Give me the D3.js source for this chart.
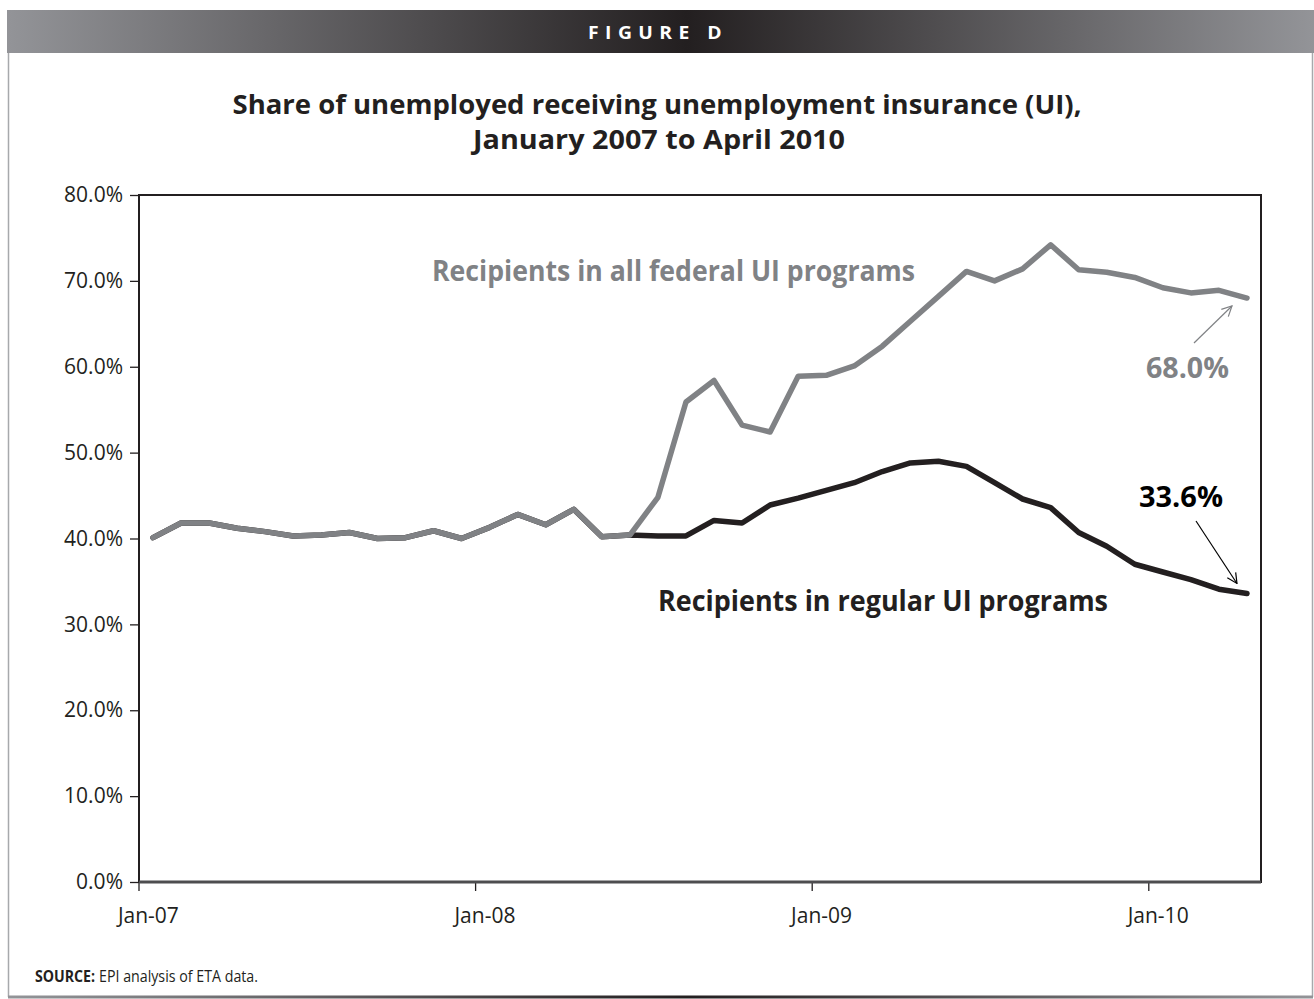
<!DOCTYPE html>
<html>
<head>
<meta charset="utf-8">
<title>Figure D - Share of unemployed receiving UI</title>
<style>
  body { margin: 0; background: #fff; }
  svg text { font-family: "Open Sans", "Noto Sans", sans-serif; fill: #231f20; }
  .axis text { font-size: 21px; }
  .axis line { stroke: #231f20; stroke-width: 1.3; }
  .axis path { display: none; }
  .line { fill: none; stroke-width: 5.5; stroke-linejoin: round; stroke-linecap: round; }
</style>
</head>
<body>
<svg id="chart" width="1314" height="999"></svg>
<script src="https://d3js.org/d3.v7.min.js"></script>
<script>
// months Jan-07 .. Apr-10
const months = [
  "2007-01","2007-02","2007-03","2007-04","2007-05","2007-06","2007-07","2007-08","2007-09","2007-10","2007-11","2007-12",
  "2008-01","2008-02","2008-03","2008-04","2008-05","2008-06","2008-07","2008-08","2008-09","2008-10","2008-11","2008-12",
  "2009-01","2009-02","2009-03","2009-04","2009-05","2009-06","2009-07","2009-08","2009-09","2009-10","2009-11","2009-12",
  "2010-01","2010-02","2010-03","2010-04"
];

// all federal UI programs (%)
const allFederal = [
  40.1, 41.8, 41.8, 41.2, 40.8, 40.3, 40.4, 40.7, 40.0, 40.1, 40.9, 40.0,
  41.3, 42.8, 41.6, 43.4, 40.2, 40.4, 44.8, 55.9, 58.4, 53.2, 52.4, 58.9,
  59.0, 60.1, 62.4, 65.3, 68.2, 71.1, 70.0, 71.4, 74.2, 71.3, 71.0, 70.4,
  69.2, 68.6, 68.9, 68.0
];

// regular UI programs (%) - same as federal before EUC started mid-2008
const regular = [
  40.1, 41.8, 41.8, 41.2, 40.8, 40.3, 40.4, 40.7, 40.0, 40.1, 40.9, 40.0,
  41.3, 42.8, 41.6, 43.4, 40.2, 40.4, 40.3, 40.3, 42.1, 41.8, 43.9, 44.7,
  45.6, 46.5, 47.8, 48.8, 49.0, 48.4, 46.5, 44.6, 43.6, 40.7, 39.1, 37.0,
  36.1, 35.2, 34.1, 33.6
];

const yTicks = [0, 10, 20, 30, 40, 50, 60, 70, 80];
const xTickMonths = ["2007-01", "2008-01", "2009-01", "2010-01"];
const xTickLabels = ["Jan-07", "Jan-08", "Jan-09", "Jan-10"];

const svg = d3.select('#chart');
const W = 1314, H = 999;
const margin = { top: 195, right: 53, bottom: 117, left: 139 };
const width = W - margin.left - margin.right,
      height = H - margin.top - margin.bottom;

// frame: header band + borders
const defs = svg.append('defs');
const grad = defs.append('linearGradient').attr('id', 'band').attr('x1', 0).attr('x2', 1).attr('y1', 0).attr('y2', 0);
grad.append('stop').attr('offset', '0%').attr('stop-color', '#939498');
grad.append('stop').attr('offset', '52%').attr('stop-color', '#231f20');
grad.append('stop').attr('offset', '100%').attr('stop-color', '#939498');

svg.append('rect').attr('x', 7).attr('y', 10).attr('width', W - 7).attr('height', 43).attr('fill', 'url(#band)');
svg.append('text')
    .attr('x', 658).attr('y', 39)
    .attr('text-anchor', 'middle')
    .style('font-size', '18px').style('font-weight', 700)
    .style('letter-spacing', '6px')
    .style('fill', '#fff')
    .attr('textLength', 140).attr('lengthAdjust', 'spacingAndGlyphs')
    .text('FIGURE D');

svg.append('line').attr('x1', 8.5).attr('x2', 8.5).attr('y1', 53).attr('y2', 997)
    .attr('stroke', '#a7a9ac').attr('stroke-width', 1.5);
svg.append('line').attr('x1', 1312.5).attr('x2', 1312.5).attr('y1', 53).attr('y2', 997)
    .attr('stroke', '#a7a9ac').attr('stroke-width', 1.5);
svg.append('rect').attr('x', 8).attr('y', 995.5).attr('width', W - 9).attr('height', 3).attr('fill', 'url(#band)');

// title
const title = svg.append('g').style('font-size', '27px').style('font-weight', 700).attr('text-anchor', 'middle');
title.append('text').attr('x', 657).attr('y', 114)
    .attr('textLength', 849).attr('lengthAdjust', 'spacingAndGlyphs')
    .text('Share of unemployed receiving unemployment insurance (UI),');
title.append('text').attr('x', 659).attr('y', 149)
    .attr('textLength', 372).attr('lengthAdjust', 'spacingAndGlyphs')
    .text('January 2007 to April 2010');

// scales
const x = d3.scaleBand().domain(months).range([0, width]);
const y = d3.scaleLinear().domain([0, 80]).range([height, 0]);
const cx = m => x(m) + x.bandwidth() / 2;

const g = svg.append('g').attr('transform', `translate(${margin.left},${margin.top})`);

// y axis
g.append('g')
    .attr('class', 'axis axis-y')
    .call(d3.axisLeft(y).tickValues(yTicks).tickSize(9).tickPadding(7).tickFormat(d => d.toFixed(1) + '%'));

// x axis - ticks at start of January bands
const xAxis = g.append('g')
    .attr('class', 'axis axis-x')
    .attr('transform', `translate(0,${height})`)
    .call(d3.axisBottom(x).tickValues(xTickMonths).tickSize(9).tickPadding(17)
        .tickFormat((d, i) => xTickLabels[i]));
xAxis.selectAll('.tick').attr('transform', d => `translate(${x(d)},0)`);
xAxis.selectAll('.tick text').attr('x', x.bandwidth() / 3);

// plot box
g.append('rect')
    .attr('x', 0).attr('y', 0).attr('width', width).attr('height', height)
    .attr('fill', 'none').attr('stroke', '#231f20').attr('stroke-width', 2);
g.append('line').attr('x1', 0).attr('x2', width).attr('y1', height).attr('y2', height)
    .attr('stroke', '#4d4d4f').attr('stroke-width', 3);

// lines
const line = d3.line().x((d, i) => cx(months[i])).y(d => y(d));
g.append('path').attr('class', 'line').attr('stroke', '#231f20').attr('d', line(regular));
g.append('path').attr('class', 'line').attr('stroke', '#808285').attr('d', line(allFederal));

// labels
const lbl = svg.append('g').style('font-weight', 700).style('font-size', '29px');
lbl.append('text').attr('x', 432).attr('y', 281).style('fill', '#808285')
    .attr('textLength', 483).attr('lengthAdjust', 'spacingAndGlyphs')
    .text('Recipients in all federal UI programs');
lbl.append('text').attr('x', 658).attr('y', 611).style('fill', '#231f20')
    .attr('textLength', 450).attr('lengthAdjust', 'spacingAndGlyphs')
    .text('Recipients in regular UI programs');
lbl.append('text').attr('x', 1146).attr('y', 378).style('fill', '#808285')
    .attr('textLength', 83).attr('lengthAdjust', 'spacingAndGlyphs')
    .text('68.0%');
lbl.append('text').attr('x', 1139).attr('y', 507).style('fill', '#000')
    .attr('textLength', 84).attr('lengthAdjust', 'spacingAndGlyphs')
    .text('33.6%');

// arrows
function marker(id, color) {
  defs.append('marker').attr('id', id)
      .attr('viewBox', '0 0 12 12').attr('refX', 11).attr('refY', 6)
      .attr('markerWidth', 12).attr('markerHeight', 12)
      .attr('markerUnits', 'userSpaceOnUse').attr('orient', 'auto')
    .append('path').attr('d', 'M1,1 L11,6 L1,11')
      .attr('fill', 'none').attr('stroke', color).attr('stroke-width', 1.2);
}
marker('arrGray', '#808285');
marker('arrBlack', '#000');

const last = months[months.length - 1];
g.append('line')
    .attr('x1', 1194 - margin.left).attr('y1', 343 - margin.top)
    .attr('x2', cx(last) - 15).attr('y2', y(allFederal[allFederal.length - 1]) + 8)
    .attr('stroke', '#808285').attr('stroke-width', 1.2).attr('marker-end', 'url(#arrGray)');
g.append('line')
    .attr('x1', 1196 - margin.left).attr('y1', 521 - margin.top)
    .attr('x2', cx(last) - 10).attr('y2', y(regular[regular.length - 1]) - 10)
    .attr('stroke', '#000').attr('stroke-width', 1.2).attr('marker-end', 'url(#arrBlack)');

// source
svg.append('text').attr('x', 35).attr('y', 982)
    .style('font-size', '16px').style('font-weight', 700)
    .attr('textLength', 60).attr('lengthAdjust', 'spacingAndGlyphs')
    .text('SOURCE:');
svg.append('text').attr('x', 99).attr('y', 982)
    .style('font-size', '16px')
    .attr('textLength', 159).attr('lengthAdjust', 'spacingAndGlyphs')
    .text('EPI analysis of ETA data.');
</script>
</body>
</html>
